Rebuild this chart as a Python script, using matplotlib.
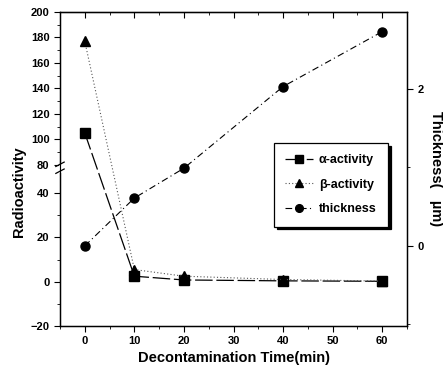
import numpy as np
import matplotlib
matplotlib.use('Agg')
import matplotlib.pyplot as plt
from matplotlib.ticker import FixedLocator

plt.rcParams['font.family'] = ['Liberation Sans', 'DejaVu Sans']
plt.rcParams['font.weight'] = 'bold'

time = [0, 10, 20, 40, 60]
alpha_act = [105, 2.5, 0.8, 0.4, 0.2]
beta_act = [177, 5.5, 2.5, 1.0, 0.3]
thickness = [0.0, 0.61, 0.99, 2.03, 2.73]

left_major = [-20, 0, 20, 40, 80, 100, 120, 140, 160, 180, 200]
left_minor = [-10, 10, 30, 90, 110, 130, 150, 170, 190]

# broken left axis: lower part -20..~51, upper part ~78..200
S1 = 133 / 60.0    # px per unit, lower part
S2 = 153 / 120.0   # px per unit, upper part
P_BREAK = 158.0
LO = P_BREAK / S1 - 20
HI = 80 + (P_BREAK - 161) / S2


def fwd(y):
    y = np.asarray(y, float)
    up = P_BREAK + 0.5 + (y - HI) * S2
    gap = P_BREAK + (y - LO) * 0.5 / (HI - LO)
    return np.where(y <= LO, (y + 20) * S1, np.where(y >= HI, up, gap))


def inv(p):
    p = np.asarray(p, float)
    low = p / S1 - 20
    up = HI + (p - P_BREAK - 0.5) / S2
    gap = LO + (p - P_BREAK) * (HI - LO) / 0.5
    return np.where(p <= P_BREAK, low, np.where(p >= P_BREAK + 0.5, up, gap))


fig = plt.figure(figsize=(4.43, 3.81), dpi=100)
ax = fig.add_axes([60 / 443, 55 / 381, 347 / 443, 314 / 381])
ax.set_yscale('function', functions=(fwd, inv))

l1, = ax.plot(time, alpha_act, color='black', lw=0.9, ls=(0, (14, 3)),
              marker='s', ms=6.5, label='\u03b1-activity')
l2, = ax.plot(time, beta_act, color='#555555', lw=0.8, ls=(0, (1, 2)),
              marker='^', ms=7, mfc='black', mec='black', label='\u03b2-activity')
ax.set_xlim(-5, 65)
ax.set_ylim(-20, 200)
ax.yaxis.set_major_locator(FixedLocator(left_major))
ax.yaxis.set_minor_locator(FixedLocator(left_minor))
ax.set_xticks(range(0, 61, 10))
ax.set_xticks(range(-5, 66, 5), minor=True)
ax.tick_params(axis='both', which='major', labelsize=8, length=4, direction='out')
ax.tick_params(axis='both', which='minor', length=2, direction='out')

# top ticks point into the frame
top = ax.secondary_xaxis('top')
top.set_xticks(range(0, 61, 10))
top.set_xticks(range(-5, 66, 5), minor=True)
top.tick_params(which='major', direction='in', length=4, labeltop=False)
top.tick_params(which='minor', direction='in', length=2)
top.set_xticklabels([])

ax2 = ax.twinx()
l3, = ax2.plot(time, thickness, color='black', lw=0.8, ls=(0, (6, 3, 1, 3)),
               marker='o', ms=6.5, label='thickness')
ax2.set_ylim(-1.02, 2.98)
ax2.set_yticks([0, 2])
ax2.set_yticks([-1, 1], minor=True)
ax2.tick_params(axis='y', which='major', labelsize=8, length=4, direction='out')
ax2.tick_params(axis='y', which='minor', length=2, direction='out')

for s in ax.spines.values():
    s.set_linewidth(1.0)

# break marks on left spine
yb = (P_BREAK + 0.25) / 314.0
ax.plot([-0.012, 0.012], [yb - 0.018, yb - 0.004], transform=ax.transAxes,
        color='black', lw=0.9, clip_on=False, zorder=5)
ax.plot([-0.012, 0.012], [yb + 0.004, yb + 0.018], transform=ax.transAxes,
        color='black', lw=0.9, clip_on=False, zorder=5)
ax.plot([0, 0], [yb - 0.009, yb + 0.009], transform=ax.transAxes,
        color='white', lw=2, clip_on=False, zorder=4)

ax.set_xlabel('Decontamination Time(min)', fontsize=10.5, fontweight='bold', labelpad=3)
ax.set_ylabel('Radioactivity', fontsize=10.5, fontweight='bold')
ax.yaxis.set_label_coords(-34 / 347, (326 - 192) / 314)
ax2.set_ylabel('Thickness(   \u00b5m)', fontsize=10.5, fontweight='bold',
               rotation=270, labelpad=14)

leg = ax2.legend(handles=[l1, l2, l3], loc='upper left',
                 bbox_to_anchor=((274 - 60) / 347, (326 - 143) / 314),
                 fontsize=9, frameon=True, fancybox=False, edgecolor='black',
                 shadow={'color': 'black', 'alpha': 1}, handlelength=2.2,
                 handletextpad=0.5, borderpad=0.9, labelspacing=1.0,
                 markerscale=0.85, borderaxespad=0)
leg.get_frame().set_linewidth(0.9)

fig.savefig('out.png', dpi=100)
